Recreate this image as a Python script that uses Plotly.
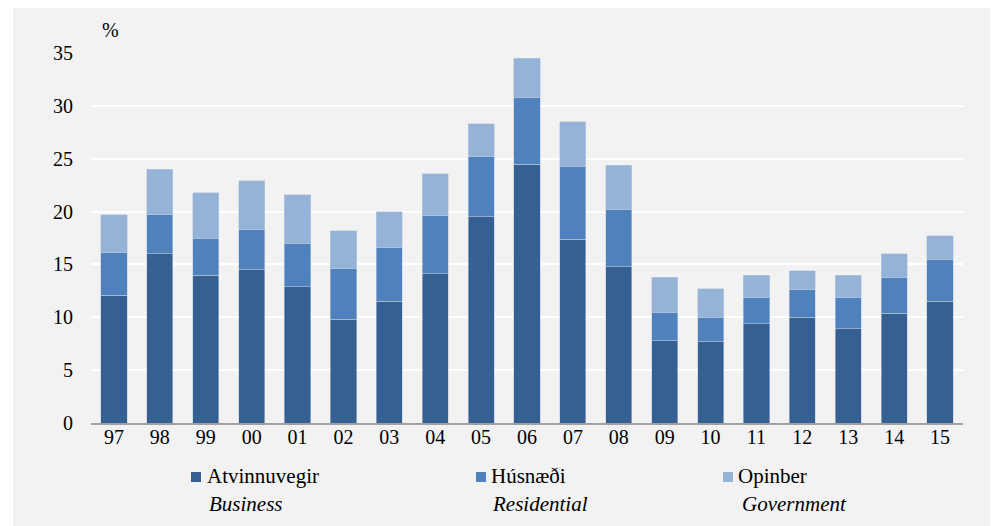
import plotly.graph_objects as go

years = ["97", "98", "99", "00", "01", "02", "03", "04", "05", "06",
         "07", "08", "09", "10", "11", "12", "13", "14", "15"]
atvinnuvegir = [12.1, 16.0, 14.0, 14.5, 12.9, 9.8, 11.5, 14.1, 19.5, 24.5,
                17.4, 14.8, 7.8, 7.7, 9.4, 10.0, 8.9, 10.4, 11.5]
husnaedi = [4.0, 3.7, 3.5, 3.8, 4.1, 4.8, 5.1, 5.5, 5.7, 6.3,
            6.9, 5.4, 2.7, 2.3, 2.5, 2.6, 3.0, 3.4, 4.0]
opinber = [3.6, 4.3, 4.3, 4.6, 4.6, 3.6, 3.4, 4.0, 3.1, 3.7,
           4.2, 4.2, 3.3, 2.7, 2.1, 1.8, 2.1, 2.2, 2.2]
series_is = ["Atvinnuvegir", "Húsnæði", "Opinber"]
series_en = ["Business", "Residential", "Government"]
y_ticks = [0, 5, 10, 15, 20, 25, 30, 35]

colors = ["#366092", "#4f81bd", "#95b3d7"]
FONT = "Liberation Serif, Times New Roman, serif"

# page body has an 8px margin: work in page pixels and convert
OFF = 8
W, H = 999 - OFF, 526 - OFF
L, R, T, B = 91, 963, 53, 423  # page pixels of plot area


def px(x):
    return (x - L) / (R - L)


def py(y):
    return (B - y) / (B - T)


fig = go.Figure()
for name, vals, col in zip(series_is, [atvinnuvegir, husnaedi, opinber], colors):
    fig.add_trace(go.Bar(
        x=years, y=vals, name=name,
        marker=dict(color=col, line=dict(color="rgba(190,205,225,0.7)", width=0.8)),
        showlegend=False,
    ))

shapes = [
    dict(type="rect", xref="paper", yref="paper", layer="below",
         x0=px(13), x1=px(990), y0=py(540), y1=py(0),
         fillcolor="#f2f2f2", line=dict(width=0)),
]
annotations = [
    dict(text="%", xref="paper", yref="paper", x=px(110), y=py(30),
         xanchor="center", yanchor="middle", showarrow=False,
         font=dict(family=FONT, size=20, color="#000")),
]
sq_x = [191, 476, 723]
txt_x = [205, 489, 736]
en_x = [207, 490, 740]
for i in range(3):
    shapes.append(dict(type="rect", xref="paper", yref="paper",
                       x0=px(sq_x[i]), x1=px(sq_x[i] + 10),
                       y0=py(482), y1=py(472),
                       fillcolor=colors[i], line=dict(width=0)))
    annotations.append(dict(text=series_is[i], xref="paper", yref="paper",
                            x=px(txt_x[i]), y=py(476), xanchor="left",
                            yanchor="middle", showarrow=False,
                            font=dict(family=FONT, size=21, color="#000")))
    annotations.append(dict(text="<i>" + series_en[i] + "</i>", xref="paper",
                            yref="paper", x=px(en_x[i]), y=py(504),
                            xanchor="left", yanchor="middle", showarrow=False,
                            font=dict(family=FONT, size=21, color="#000")))

fig.update_layout(
    width=W, height=H,
    margin=dict(l=L - OFF, r=999 - R, t=T - OFF, b=526 - B, pad=0),
    paper_bgcolor="#ffffff",
    plot_bgcolor="#d9d9d9",
    barmode="stack",
    bargap=0.43,
    font=dict(family=FONT, size=20, color="#000"),
    shapes=shapes,
    annotations=annotations,
    xaxis=dict(
        showgrid=False, showline=True, linecolor="#a0a0a0", linewidth=1.5,
        ticks="", ticklabelstandoff=-5,
        tickfont=dict(family=FONT, size=20, color="#000"),
    ),
    yaxis=dict(
        range=[0, 35], tickvals=y_ticks, showgrid=True, gridcolor="#ffffff",
        gridwidth=2, zeroline=False, showline=False,
        ticks="outside", ticklen=13, tickcolor="rgba(0,0,0,0)",
        tickfont=dict(family=FONT, size=20, color="#000"),
    ),
)

fig.write_html("out.html")
